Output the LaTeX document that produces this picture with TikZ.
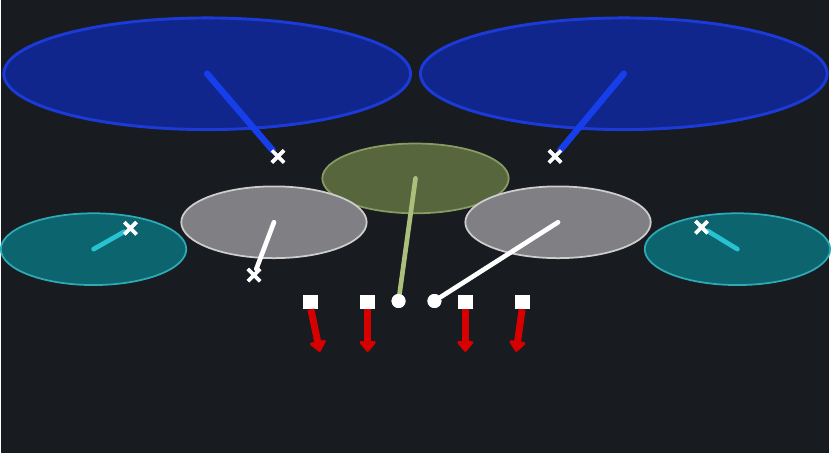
\documentclass[tikz,border=0pt]{standalone}
\usepackage{tikz}
\usetikzlibrary{shapes,arrows.meta}
\definecolor{bgdark}{RGB}{24,27,32}
\definecolor{zonefill}{RGB}{16,38,140}
\definecolor{zoneedge}{RGB}{28,58,215}
\definecolor{zoneline}{RGB}{22,62,235}
\definecolor{olivefill}{RGB}{88,102,62}
\definecolor{oliveedge}{RGB}{135,155,98}
\definecolor{oliveline}{RGB}{172,192,125}
\definecolor{grayfill}{RGB}{128,128,132}
\definecolor{grayedge}{RGB}{205,205,205}
\definecolor{tealfill}{RGB}{12,100,110}
\definecolor{tealedge}{RGB}{45,170,182}
\definecolor{tealline}{RGB}{40,195,210}
\definecolor{runred}{RGB}{215,0,0}
\tikzstyle{zone} = [ellipse,inner sep=0pt,line width=2.5pt]

\begin{document}
\begin{tikzpicture}
		[
		x=0.03cm,y=-0.03cm,
		deep/.style={zone,fill=zonefill,draw=zoneedge,
		minimum width=12.24cm,minimum height=3.36cm},
		mid/.style={zone,fill=olivefill,draw=oliveedge,line width=1.5pt,
		minimum width=5.61cm,minimum height=2.1cm},
		flat/.style={zone,fill=grayfill,draw=grayedge,line width=1.5pt,
		minimum width=5.58cm,minimum height=2.16cm},
		under/.style={zone,fill=tealfill,draw=tealedge,line width=1.5pt,
		minimum width=5.58cm,minimum height=2.16cm},
		xmark/.style={cross out,draw=white,line width=3pt,
		minimum size=0.26cm,inner sep=0pt},
		dot/.style={circle,fill=white,minimum size=0.42cm,inner sep=0pt},
		blocker/.style={rectangle,fill=white,minimum width=0.45cm,
		minimum height=0.42cm,inner sep=0pt},
		route/.style={line cap=round,line width=#1},
		run/.style={draw=runred,line width=6pt,
		-{Triangle[width=16pt,length=10pt,round]}}
		]
		\fill[bgdark] (0,0) rectangle (831,455);
		% deep zones
		\node[deep](deepL) at (207,74) {};
		\node[deep](deepR) at (625,74) {};
		% underneath zones
		\node[under](underL) at (93,250) {};
		\node[under](underR) at (739,250) {};
		% middle
		\node[mid](hook) at (416,179) {};
		\node[flat](flatL) at (274,223) {};
		\node[flat](flatR) at (559,223) {};
		% drop points
		\node[xmark](xDeepL) at (278,157) {};
		\node[xmark](xDeepR) at (556,157) {};
		\node[xmark](xFlatL) at (254,276) {};
		\node[xmark](xUnderL) at (130,229) {};
		\node[xmark](xUnderR) at (703,228) {};
		\node[dot](qb) at (399,302) {};
		\node[dot](rb) at (435,302) {};
		% line
		\node[blocker](lt) at (311,303) {};
		\node[blocker](lg) at (368,303) {};
		\node[blocker](rg) at (466,303) {};
		\node[blocker](rt) at (523,303) {};
		\coordinate (lt2) at (320,353);
		\coordinate (lg2) at (368,353);
		\coordinate (rg2) at (466,353);
		\coordinate (rt2) at (517,353);
		% routes
		\draw[route=5.5pt,zoneline] (deepL.center) -- (xDeepL);
		\draw[route=5.5pt,zoneline] (deepR.center) -- (xDeepR);
		\draw[route=4pt,white] (flatL.center) -- (xFlatL);
		\draw[route=4pt,tealline] (underL.center) -- (xUnderL);
		\draw[route=4pt,tealline] (underR.center) -- (xUnderR);
		\draw[route=4pt,oliveline] (hook.center) -- (qb);
		\draw[route=4pt,white] (flatR.center) -- (rb);
		\node[xmark] at (xDeepL) {};
		\node[xmark] at (xDeepR) {};
		\node[xmark] at (xFlatL) {};
		\node[xmark] at (xUnderL) {};
		\node[xmark] at (xUnderR) {};
		\node[dot] at (qb) {};
		\node[dot] at (rb) {};
		\draw[run] (lt.south) -- (lt2);
		\draw[run] (lg.south) -- (lg2);
		\draw[run] (rg.south) -- (rg2);
		\draw[run] (rt.south) -- (rt2);
		\end{tikzpicture}
\end{document}
